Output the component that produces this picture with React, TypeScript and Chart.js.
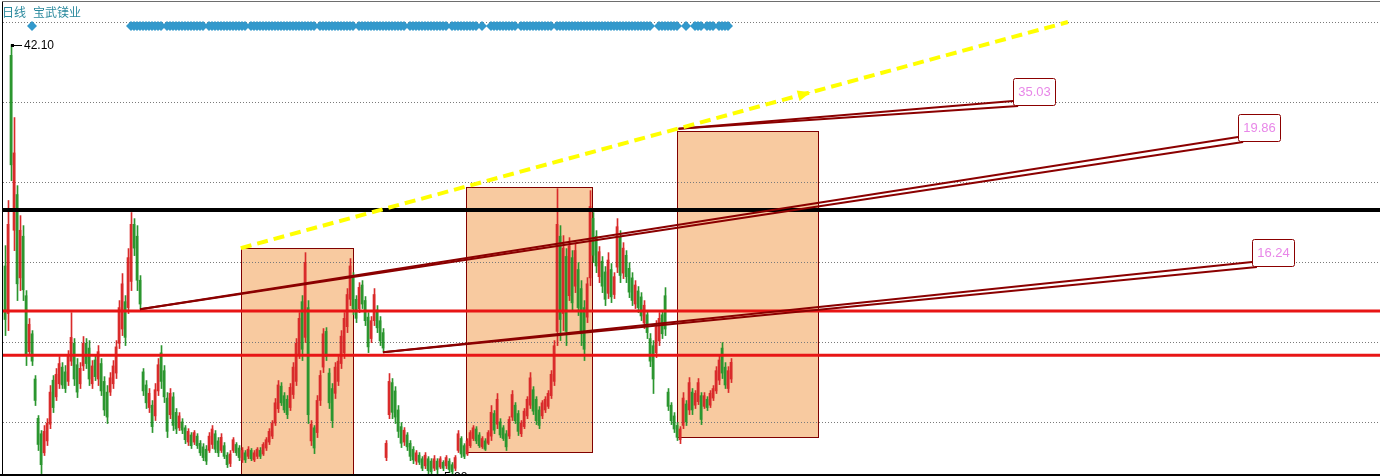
import React, { useEffect, useRef } from 'react';
import { Chart, registerables } from 'chart.js';

Chart.register(...registerables);

const periodName = '日线';
const stockName = '宝武镁业';

// Daily bars, one entry per bar: [open, high, low, close]
const bars: number[][] = [
  [23.5, 25.21, 17.65, 19.0], [19.5, 29.0, 18.07, 27.0], [41.2, 42.10, 30.67, 32.0], [26.5, 35.97, 24.79, 33.0],
  [29.5, 30.25, 20.59, 22.0], [22.5, 27.73, 21.43, 26.5], [26.0, 26.89, 20.59, 21.5], [21.0, 21.43, 15.13, 16.0],
  [16.3, 19.08, 15.97, 18.6], [17.8, 18.07, 15.13, 15.5], [14.0, 14.29, 11.77, 12.2], [10.7, 10.93, 7.99, 8.5],
  [9.4, 9.67, 6.05, 6.8], [7.8, 10.09, 7.57, 9.6], [8.8, 10.67, 8.41, 10.3], [10.2, 13.45, 9.83, 12.9],
  [13.9, 14.29, 11.18, 11.6], [12.5, 14.88, 12.19, 14.4], [13.6, 15.88, 13.20, 15.3], [15.0, 15.38, 13.20, 13.5],
  [14.6, 15.13, 12.86, 13.2], [13.8, 16.39, 13.45, 15.9], [15.5, 19.58, 15.13, 17.5], [17.0, 17.40, 13.45, 14.0],
  [15.2, 15.72, 12.44, 12.9], [13.6, 15.38, 13.20, 14.9], [15.1, 17.57, 14.71, 17.0], [17.0, 17.40, 14.88, 15.3],
  [16.6, 17.23, 13.45, 14.0], [13.6, 15.55, 13.20, 15.1], [15.6, 15.97, 13.87, 14.2], [14.0, 16.81, 13.45, 16.3],
  [15.3, 15.72, 12.61, 13.0], [13.8, 14.20, 10.93, 11.4], [12.9, 13.45, 10.26, 10.8], [12.9, 14.54, 12.61, 14.1],
  [13.6, 15.55, 13.20, 15.1], [14.5, 17.23, 14.04, 16.7], [17.0, 20.59, 16.56, 20.0], [18.2, 22.86, 17.65, 22.0],
  [20.5, 21.01, 16.81, 17.5], [20.0, 24.96, 19.50, 24.2], [22.2, 27.99, 21.43, 27.0], [27.0, 27.48, 24.37, 25.0],
  [26.0, 26.89, 21.43, 22.3], [22.3, 22.69, 19.86, 20.3], [14.6, 14.88, 12.61, 13.0], [13.5, 13.87, 11.52, 12.0],
  [11.6, 13.20, 11.18, 12.8], [11.8, 12.19, 9.50, 10.0], [10.9, 13.62, 10.51, 13.1], [13.0, 15.72, 12.61, 15.2],
  [16.2, 16.81, 13.20, 13.8], [14.7, 15.13, 12.02, 12.5], [12.4, 12.86, 9.08, 9.6], [11.0, 13.20, 10.67, 12.8],
  [12.5, 12.86, 9.67, 10.1], [11.2, 11.52, 9.41, 9.8], [9.9, 11.18, 9.67, 10.9], [10.4, 10.67, 9.41, 9.7],
  [9.9, 10.09, 8.57, 8.9], [8.7, 9.83, 8.41, 9.6], [9.3, 9.50, 8.16, 8.4], [8.7, 9.67, 8.49, 9.5],
  [9.2, 9.41, 8.16, 8.4], [8.6, 8.83, 7.57, 7.8], [8.3, 8.57, 7.14, 7.4], [8.1, 8.41, 6.81, 7.1],
  [8.0, 9.50, 7.82, 9.2], [8.5, 10.09, 8.16, 9.8], [9.4, 9.67, 7.82, 8.1], [8.8, 9.08, 7.48, 7.8],
  [8.0, 9.41, 7.82, 9.1], [8.4, 8.66, 7.31, 7.5], [7.6, 7.82, 6.56, 6.8], [6.9, 7.99, 6.64, 7.7],
  [8.0, 9.08, 7.82, 8.9], [8.5, 8.66, 7.57, 7.8], [8.2, 8.41, 7.14, 7.4], [7.2, 8.24, 6.98, 8.0],
  [7.8, 7.99, 6.98, 7.2], [7.5, 8.32, 7.31, 8.1], [8.0, 8.16, 7.14, 7.3], [7.2, 7.99, 7.06, 7.8],
  [7.5, 8.24, 7.31, 8.1], [8.0, 8.24, 7.31, 7.5], [7.7, 8.66, 7.57, 8.5], [8.2, 9.08, 7.99, 8.9],
  [8.7, 9.83, 8.49, 9.6], [9.2, 10.51, 8.99, 10.3], [10.3, 12.36, 10.09, 12.0], [11.5, 13.87, 11.18, 13.5],
  [13.4, 13.70, 11.77, 12.0], [12.6, 12.86, 11.18, 11.4], [12.3, 12.61, 10.67, 11.0], [11.6, 13.62, 11.35, 13.3],
  [12.7, 15.38, 12.36, 15.0], [13.8, 17.40, 13.45, 17.0], [16.0, 19.58, 15.72, 19.1], [20.5, 21.01, 15.55, 16.5],
  [17.5, 24.62, 17.06, 23.8], [20.0, 20.59, 10.26, 11.0], [8.8, 10.51, 8.41, 10.2], [9.9, 10.09, 7.73, 8.2],
  [9.5, 12.61, 9.08, 12.2], [12.2, 14.71, 11.77, 14.3], [15.0, 18.24, 14.54, 17.8], [18.0, 18.32, 15.55, 15.9],
  [14.5, 14.88, 11.52, 12.0], [13.2, 13.62, 9.92, 10.5], [12.8, 15.38, 12.36, 15.0], [13.8, 15.88, 13.45, 15.5],
  [15.3, 18.07, 14.88, 17.6], [16.2, 19.58, 15.72, 19.1], [18.4, 21.60, 17.90, 21.1], [20.7, 24.12, 20.17, 23.5],
  [22.5, 22.94, 19.41, 19.9], [20.7, 21.01, 18.74, 19.1], [19.9, 22.10, 19.58, 21.7], [21.9, 22.27, 19.92, 20.3],
  [20.6, 20.93, 18.49, 18.9], [19.2, 19.58, 16.22, 16.7], [17.4, 19.25, 17.06, 18.9], [18.9, 21.60, 18.49, 21.1],
  [19.8, 20.17, 17.90, 18.3], [18.9, 19.25, 16.81, 17.2], [17.9, 18.24, 16.24, 16.6], [7.4, 8.83, 7.14, 8.6],
  [11.0, 14.46, 10.67, 13.8], [13.7, 14.04, 10.67, 11.2], [13.0, 13.36, 10.26, 10.8], [11.4, 11.77, 9.08, 9.6],
  [10.0, 10.34, 8.24, 8.6], [8.7, 9.92, 8.41, 9.7], [9.3, 9.50, 7.99, 8.3], [8.6, 8.83, 7.14, 7.5],
  [8.1, 8.32, 6.89, 7.2], [7.1, 7.99, 6.81, 7.8], [7.6, 7.82, 6.81, 7.0], [7.3, 7.48, 6.30, 6.5],
  [6.7, 7.82, 6.47, 7.6], [7.3, 7.48, 5.97, 6.3], [7.1, 7.31, 5.88, 6.2], [6.5, 7.57, 6.30, 7.3],
  [7.1, 7.31, 6.05, 6.4], [6.6, 7.48, 6.47, 7.3], [7.0, 7.14, 6.30, 6.5], [6.7, 7.57, 6.47, 7.4],
  [7.1, 7.31, 6.14, 6.4], [6.8, 6.98, 5.97, 6.2], [6.5, 7.57, 6.30, 7.4], [8.0, 9.67, 7.82, 9.4],
  [9.0, 9.16, 7.40, 7.7], [8.4, 8.57, 7.31, 7.5], [7.7, 8.99, 7.57, 8.8], [8.4, 9.67, 8.24, 9.5],
  [9.0, 10.09, 8.83, 9.9], [9.8, 10.00, 8.57, 8.8], [9.3, 9.50, 8.24, 8.4], [8.3, 9.16, 8.16, 9.0],
  [8.8, 8.99, 7.99, 8.1], [8.6, 9.67, 8.49, 9.5], [9.2, 11.77, 8.83, 11.2], [11.1, 11.35, 9.41, 9.7],
  [10.2, 12.78, 9.83, 12.3], [10.4, 10.67, 9.08, 9.3], [9.9, 10.09, 8.83, 9.0], [9.4, 9.67, 7.99, 8.3],
  [9.2, 10.84, 8.99, 10.6], [10.8, 13.03, 10.51, 12.7], [11.8, 12.02, 10.26, 10.5], [11.1, 11.35, 9.25, 9.6],
  [9.4, 10.51, 9.16, 10.3], [10.0, 11.52, 9.83, 11.3], [10.9, 12.52, 10.67, 12.3], [11.8, 14.54, 11.52, 14.1],
  [13.1, 13.36, 11.01, 11.3], [12.3, 12.52, 10.17, 10.5], [11.4, 11.68, 9.83, 10.1], [10.9, 12.19, 10.67, 12.0],
  [11.4, 12.52, 11.18, 12.3], [11.7, 13.03, 11.52, 12.8], [12.6, 14.71, 12.36, 14.4], [13.8, 17.23, 13.45, 16.8],
  [18.0, 30.00, 16.81, 27.0], [26.0, 26.89, 17.23, 19.0], [19.5, 26.05, 18.07, 25.0], [24.3, 24.96, 16.81, 18.0],
  [21.0, 25.88, 20.59, 25.2], [24.2, 24.79, 19.75, 20.4], [21.8, 25.38, 21.26, 24.8], [23.2, 23.78, 19.33, 20.0],
  [21.6, 22.27, 16.81, 17.8], [20.0, 20.59, 15.55, 16.5], [19.2, 22.52, 18.74, 22.0], [22.5, 29.83, 21.85, 28.5],
  [27.5, 27.99, 23.78, 24.4], [26.0, 26.47, 22.94, 23.5], [22.6, 25.13, 22.10, 24.7], [23.9, 24.29, 21.26, 21.8],
  [23.0, 23.45, 20.17, 20.7], [21.2, 24.62, 20.76, 24.0], [23.2, 23.70, 20.42, 20.9], [21.1, 22.94, 20.76, 22.6],
  [23.4, 27.48, 22.94, 26.8], [26.0, 26.47, 22.10, 22.7], [22.9, 25.46, 22.44, 25.0], [24.4, 24.79, 22.10, 22.6],
  [23.3, 23.78, 20.84, 21.3], [22.5, 22.94, 20.17, 20.6], [20.3, 22.27, 19.92, 21.9], [21.4, 21.77, 19.58, 20.0],
  [20.9, 21.26, 18.91, 19.3], [18.7, 20.59, 18.24, 20.2], [19.4, 19.75, 17.40, 17.9], [17.4, 17.82, 15.04, 15.5],
  [16.8, 17.23, 12.78, 14.0], [16.2, 18.91, 15.80, 18.4], [17.2, 19.58, 16.81, 19.1], [19.4, 19.75, 17.40, 17.8],
  [21.0, 21.68, 17.65, 18.2], [12.9, 13.20, 11.35, 11.7], [11.8, 12.02, 10.17, 10.5], [10.9, 11.18, 9.50, 9.8],
  [10.1, 10.34, 8.83, 9.1], [8.9, 10.00, 8.57, 9.8], [10.1, 12.86, 9.83, 12.4], [11.9, 12.19, 10.09, 10.4],
  [11.4, 14.12, 11.01, 13.7], [12.9, 13.20, 11.01, 11.4], [11.8, 13.03, 11.52, 12.8], [12.1, 14.04, 11.85, 13.7],
  [12.6, 12.86, 10.17, 10.6], [11.7, 12.86, 11.52, 12.6], [12.3, 12.52, 11.35, 11.6], [11.8, 13.03, 11.60, 12.8],
  [12.4, 13.45, 12.19, 13.2], [13.0, 15.04, 12.78, 14.7], [13.9, 15.97, 13.53, 15.6], [16.6, 17.06, 14.04, 14.5],
  [15.0, 15.38, 13.20, 13.5], [13.2, 15.04, 12.86, 14.7], [14.0, 15.72, 13.70, 15.4],
];

// Visible window: price range and bar-slot range (includes empty future slots)
const priceTop = 45.766;
const priceBottom = 6.018;
const slotFirst = -0.667;
const slotLast = 458.333;

// Dotted reference levels
const gridLevels = [44.0, 37.28, 30.56, 23.83, 17.11, 10.39];

// Horizontal support / resistance levels
const blackLevel = 28.2;
const redLevels = [19.72, 16.0];

// Shaded boxes (bar slots and prices)
const boxFrom = [78.6, 153.7, 224.1];
const boxTo = [116.1, 195.8, 271.1];
const boxTop = [24.98, 30.11, 34.84];
const boxBottom = [5.0, 7.84, 9.13];

// Double-line rays: start point and the two end points of each pair
const rayStartX = [224.5, 45, 126];
const rayStartY = [35.03, 19.86, 16.24];
const rayEndX = [[336, 337.7], [411, 412.7], [415.7, 417.3]];
const rayEndY = [[37.36, 36.94], [34.34, 33.92], [23.83, 23.41]];

// Yellow dashed trend and the arrow mark on it
const trendX = [78.6, 354.3];
const trendY = [25.0, 44.0];
const trendArrowX = 266;
const trendArrowY = 37.92;

// Signal markers along the top
const signalLevel = 43.66;
const signalRanges = [
  [9, 9], [42, 52], [54, 66], [68, 80], [82, 103], [105, 116], [118, 133], [135, 147], [149, 157],
  [159, 159], [162, 170], [172, 182], [184, 215], [218, 224], [227, 227], [230, 232], [234, 236], [238, 241],
];

const upColor = '#d92b2b';
const downColor = '#2b962f';
const boxFill = '#f8caa0';
const boxEdge = '#800000';
const rayColor = '#8b0000';
const rayLabelColor = '#e887e8';
const redColor = '#e81515';
const trendColor = '#ffff00';
const signalColor = '#3399cc';
const titleColor = '#2b8a9e';
const gridColor = '#7a7a7a';

const W = 1380;
const H = 476;

function hLine(v: number, color: string, width: number, order: number) {
  return {
    type: 'line',
    data: [{ x: slotFirst - 1, y: v }, { x: slotLast + 1, y: v }],
    borderColor: color,
    borderWidth: width,
    pointRadius: 0,
    fill: false,
    order,
  };
}

function segment(x0: number, y0: number, x1: number, y1: number, color: string, width: number, order: number, dash: number[] = []) {
  return {
    type: 'line',
    data: [{ x: x0, y: y0 }, { x: x1, y: y1 }],
    borderColor: color,
    borderWidth: width,
    borderDash: dash,
    pointRadius: 0,
    fill: false,
    order,
  };
}

const overlayPlugin = {
  id: 'overlay',
  beforeDatasetsDraw(chart: any) {
    const { ctx, chartArea: a, scales } = chart;
    const xs = scales.x;
    const ys = scales.y;
    ctx.save();
    ctx.beginPath();
    ctx.rect(a.left, a.top, a.right - a.left, a.bottom - a.top);
    ctx.clip();
    boxFrom.forEach((from, k) => {
      const l = Math.round(xs.getPixelForValue(from));
      const r = Math.round(xs.getPixelForValue(boxTo[k]));
      const t = Math.round(ys.getPixelForValue(boxTop[k]));
      const b = Math.round(ys.getPixelForValue(boxBottom[k]));
      ctx.fillStyle = boxFill;
      ctx.fillRect(l, t, r - l, b - t);
      ctx.strokeStyle = boxEdge;
      ctx.lineWidth = 1;
      ctx.strokeRect(l + 0.5, t + 0.5, r - l, b - t);
    });
    ctx.strokeStyle = gridColor;
    ctx.lineWidth = 1;
    ctx.setLineDash([1, 2]);
    gridLevels.forEach((v) => {
      const py = Math.round(ys.getPixelForValue(v)) + 0.5;
      ctx.beginPath();
      ctx.moveTo(a.left, py);
      ctx.lineTo(a.right, py);
      ctx.stroke();
    });
    ctx.restore();
  },
  afterDatasetsDraw(chart: any) {
    const { ctx, chartArea: a, scales } = chart;
    const xs = scales.x;
    const ys = scales.y;
    ctx.save();

    // frame
    ctx.fillStyle = '#000';
    ctx.fillRect(a.left - 1, a.top, 1, H - a.top);
    ctx.fillStyle = '#6e6e6e';
    ctx.fillRect(a.left - 1, a.top, W - a.left + 1, 1);
    ctx.fillStyle = '#000';
    ctx.fillRect(0, a.bottom, W, 2);

    // title
    ctx.font = '12px "Noto Sans CJK SC", sans-serif';
    ctx.fillStyle = titleColor;
    ctx.textBaseline = 'middle';
    ctx.textAlign = 'left';
    ctx.fillText(periodName, 2, 12.5);
    ctx.fillText(stockName, 33, 12.5);

    // highest high / lowest low markers
    let hi = 0;
    let lo = 0;
    bars.forEach((b, i) => {
      if (b[1] > bars[hi][1]) hi = i;
      if (b[2] < bars[lo][2]) lo = i;
    });
    ctx.font = '12px "Liberation Sans", Arial, sans-serif';
    ctx.fillStyle = '#000';
    ctx.strokeStyle = '#000';
    ctx.lineWidth = 1;
    const hx = Math.round(xs.getPixelForValue(hi));
    const hy = Math.round(ys.getPixelForValue(bars[hi][1])) + 0.5;
    ctx.beginPath();
    ctx.moveTo(hx, hy);
    ctx.lineTo(hx + 11, hy);
    ctx.stroke();
    ctx.fillRect(hx, hy - 1.5, 3, 3);
    ctx.fillText(bars[hi][1].toFixed(2), hx + 13, hy);
    const lx = Math.round(xs.getPixelForValue(lo));
    const ly = Math.round(ys.getPixelForValue(bars[lo][2])) + 0.5;
    ctx.beginPath();
    ctx.moveTo(lx, ly);
    ctx.lineTo(lx + 11, ly);
    ctx.stroke();
    ctx.fillText(bars[lo][2].toFixed(2), lx + 13, ly + 1);

    // ray value tags
    ctx.font = '13px "Liberation Sans", Arial, sans-serif';
    ctx.textAlign = 'center';
    rayStartY.forEach((v, k) => {
      const bx = Math.round(xs.getPixelForValue(rayEndX[k][0])) + 0.5;
      const by = Math.round(ys.getPixelForValue(rayEndY[k][0])) - 23 + 0.5;
      ctx.beginPath();
      ctx.roundRect(bx, by, 42, 27, 2);
      ctx.fillStyle = '#fff';
      ctx.fill();
      ctx.strokeStyle = rayColor;
      ctx.stroke();
      ctx.fillStyle = rayLabelColor;
      ctx.fillText(v.toFixed(2), bx + 21, by + 14);
    });

    // arrow head on the yellow trend
    const p0x = xs.getPixelForValue(trendX[0]);
    const p0y = ys.getPixelForValue(trendY[0]);
    const p1x = xs.getPixelForValue(trendX[1]);
    const p1y = ys.getPixelForValue(trendY[1]);
    const ang = Math.atan2(p1y - p0y, p1x - p0x);
    ctx.translate(xs.getPixelForValue(trendArrowX), ys.getPixelForValue(trendArrowY));
    ctx.rotate(ang);
    ctx.beginPath();
    ctx.moveTo(8, 0);
    ctx.lineTo(-5, -5.5);
    ctx.lineTo(-5, 5.5);
    ctx.closePath();
    ctx.fillStyle = trendColor;
    ctx.fill();
    ctx.restore();
  },
};

export default function App() {
  const ref = useRef<HTMLCanvasElement>(null);

  useEffect(() => {
    document.body.style.margin = '0';
    const canvas = ref.current;
    if (!canvas) return;

    const colors = bars.map((b) => (b[3] >= b[0] ? upColor : downColor));
    const signalPoints: { x: number; y: number }[] = [];
    signalRanges.forEach(([s, e]) => {
      for (let i = s; i <= e; i++) signalPoints.push({ x: i, y: signalLevel });
    });

    const datasets: any[] = [
      {
        type: 'bar',
        data: bars.map((b, i) => ({ x: i + 1 / 6, y: [b[2], b[1]] })),
        backgroundColor: colors,
        barThickness: 1,
        grouped: false,
        borderWidth: 0,
        order: 10,
      },
      {
        type: 'bar',
        data: bars.map((b, i) => ({ x: i, y: [b[0], b[3]] })),
        backgroundColor: colors,
        barThickness: 2,
        grouped: false,
        borderWidth: 0,
        order: 9,
      },
      hLine(blackLevel, '#000', 4, 6),
      ...redLevels.map((v) => hLine(v, redColor, 3, 6)),
    ];
    rayStartX.forEach((sx, k) => {
      rayEndX[k].forEach((ex, j) => {
        datasets.push(segment(sx, rayStartY[k], ex, rayEndY[k][j], rayColor, 2, 5));
      });
    });
    datasets.push(segment(trendX[0], trendY[0], trendX[1], trendY[1], trendColor, 4, 3, [11, 6]));
    datasets.push({
      type: 'line',
      data: signalPoints,
      showLine: false,
      pointStyle: 'rectRot',
      pointRadius: 5,
      pointBackgroundColor: signalColor,
      pointBorderColor: signalColor,
      pointBorderWidth: 0,
      order: 2,
    });

    const chart = new Chart(canvas, {
      type: 'bar',
      data: { datasets },
      options: {
        responsive: false,
        animation: false,
        devicePixelRatio: 1,
        events: [],
        layout: { autoPadding: false, padding: { left: 3, top: 1, right: 0, bottom: 2 } },
        scales: {
          x: { type: 'linear', min: slotFirst, max: slotLast, display: false, offset: false },
          y: { type: 'linear', min: priceBottom, max: priceTop, display: false },
        },
        plugins: {
          legend: { display: false },
          tooltip: { enabled: false },
        },
      },
      plugins: [overlayPlugin],
    } as any);

    return () => chart.destroy();
  }, []);

  return <canvas ref={ref} width={W} height={H} style={{ display: 'block', width: W, height: H }} />;
}
